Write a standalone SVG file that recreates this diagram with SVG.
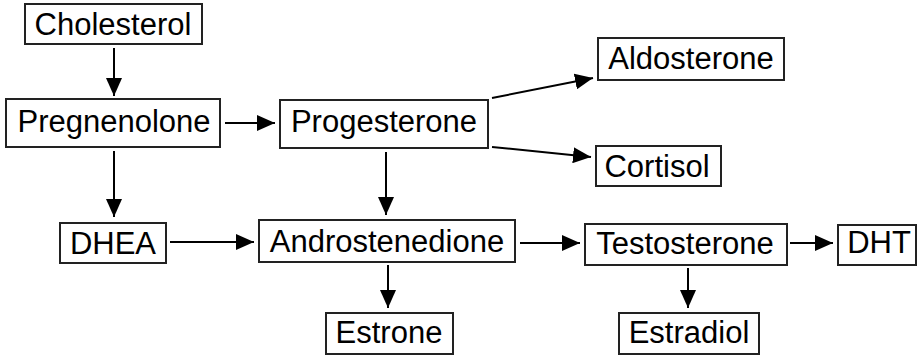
<svg xmlns="http://www.w3.org/2000/svg" width="919" height="356" viewBox="0 0 919 356">
  <defs>
    <marker id="ah" viewBox="0 0 18 16" refX="18" refY="8" markerWidth="18" markerHeight="16" markerUnits="userSpaceOnUse" orient="auto">
      <path d="M0,0 L18,8 L0,16 z" fill="#000"/>
    </marker>
    <style>
      .box { fill: #fff; stroke: #222; stroke-width: 2; }
      .lbl { font-family: "Liberation Sans", Arial, sans-serif; font-size: 31px; fill: #000; text-anchor: middle; }
      .edge { stroke: #000; stroke-width: 2; fill: none; marker-end: url(#ah); }
    </style>
  </defs>
  <rect width="919" height="356" fill="#fff"/>
  <g id="connectors">
    <line class="edge" x1="114" y1="48" x2="114" y2="96"/>
    <line class="edge" x1="225" y1="123" x2="275" y2="123"/>
    <line class="edge" x1="492" y1="98" x2="593" y2="78"/>
    <line class="edge" x1="492" y1="147" x2="591" y2="157"/>
    <line class="edge" x1="386" y1="152" x2="386" y2="215"/>
    <line class="edge" x1="114" y1="151" x2="114" y2="217"/>
    <line class="edge" x1="170" y1="242" x2="254" y2="242"/>
    <line class="edge" x1="388" y1="265" x2="388" y2="308"/>
    <line class="edge" x1="520" y1="243" x2="580" y2="243"/>
    <line class="edge" x1="790" y1="243" x2="833" y2="243"/>
    <line class="edge" x1="688" y1="268" x2="688" y2="308"/>
  </g>
  <g id="cholesterol">
    <rect class="box" x="25" y="4" width="177" height="40"/>
    <text class="lbl" x="113" y="35">Cholesterol</text>
  </g>
  <g id="pregnenolone">
    <rect class="box" x="6" y="99" width="214" height="48"/>
    <text class="lbl" x="114" y="132">Pregnenolone</text>
  </g>
  <g id="progesterone">
    <rect class="box" x="280" y="100" width="208" height="48"/>
    <text class="lbl" x="384" y="132">Progesterone</text>
  </g>
  <g id="aldosterone">
    <rect class="box" x="598" y="38" width="186" height="42"/>
    <text class="lbl" x="691" y="69">Aldosterone</text>
  </g>
  <g id="cortisol">
    <rect class="box" x="596" y="146" width="125" height="40"/>
    <text class="lbl" x="657" y="177">Cortisol</text>
  </g>
  <g id="dhea">
    <rect class="box" x="60" y="223" width="106" height="40"/>
    <text class="lbl" x="113" y="254">DHEA</text>
  </g>
  <g id="androstenedione">
    <rect class="box" x="259" y="220" width="256" height="42"/>
    <text class="lbl" x="387" y="252">Androstenedione</text>
  </g>
  <g id="estrone">
    <rect class="box" x="326" y="313" width="127" height="41"/>
    <text class="lbl" x="389" y="343">Estrone</text>
  </g>
  <g id="testosterone">
    <rect class="box" x="585" y="224" width="202" height="41"/>
    <text class="lbl" x="685" y="254">Testosterone</text>
  </g>
  <g id="dht">
    <rect class="box" x="838" y="225" width="78" height="40"/>
    <text class="lbl" x="879" y="253">DHT</text>
  </g>
  <g id="estradiol">
    <rect class="box" x="619" y="313" width="140" height="41"/>
    <text class="lbl" x="689" y="343">Estradiol</text>
  </g>
</svg>
